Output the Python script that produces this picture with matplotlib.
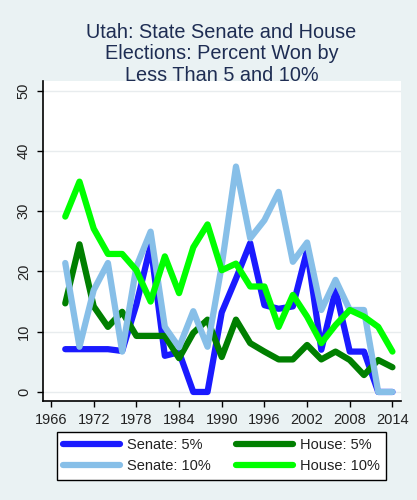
import numpy as np
import matplotlib.pyplot as plt

plt.rcParams['font.family'] = ['Liberation Sans', 'DejaVu Sans']

# election years and percent of races won by less than 5 / 10 points
years = list(range(1968, 2015, 2))

senate_5 = [7.1, 7.1, 7.1, 7.1, 6.8, 14.5, 24.3, 6.0, 6.6, 0, 0, 13.2,
            18.8, 24.7, 14.4, 13.8, 14.2, 23.5, 7.0, 16.9, 6.7, 6.7, 0, 0]
senate_10 = [21.4, 7.5, 16.9, 21.4, 6.7, 20.8, 26.6, 10.8, 7.4, 13.4, 7.5, 21.0,
             37.4, 25.5, 28.5, 33.2, 21.6, 24.8, 13.6, 18.6, 13.6, 13.6, 0, 0]
house_5 = [14.7, 24.5, 14.2, 10.8, 13.3, 9.3, 9.3, 9.3, 5.6, 9.8, 12.0, 5.8,
           12.0, 8.1, 6.7, 5.4, 5.4, 7.8, 5.4, 6.7, 5.3, 2.8, 5.3, 4.1]
house_10 = [29.1, 34.9, 27.1, 22.9, 22.9, 20.2, 15.0, 22.5, 16.4, 24.0, 27.8, 20.2,
            21.3, 17.5, 17.5, 10.8, 16.1, 12.5, 8.1, 11.1, 13.6, 12.5, 10.8, 6.7]

bg = "#eaf2f3"
fig = plt.figure(figsize=(4.17, 5.0), dpi=100, facecolor=bg)
ax = fig.add_axes([0.1024, 0.198, 0.8592, 0.640])
ax.set_facecolor("white")

lw = 4.5
l1, = ax.plot(years, senate_5, color="#1a1aff", lw=lw, solid_capstyle="round", label="Senate: 5%")
l3, = ax.plot(years, house_5, color="#007f00", lw=lw, solid_capstyle="round", label="House: 5%")
l2, = ax.plot(years, senate_10, color="#87bfe8", lw=lw, solid_capstyle="round", label="Senate: 10%")
l4, = ax.plot(years, house_10, color="#00ff00", lw=lw, solid_capstyle="round", label="House: 10%")

ax.set_xlim(1964.83, 2015.2)
ax.set_ylim(-1.5, 51.6)
ax.set_xticks(range(1966, 2015, 6))
ax.set_yticks(range(0, 51, 10))
ax.grid(axis="y", color="#e8ecee", lw=1)
ax.set_axisbelow(True)
for s in ["top", "right"]:
    ax.spines[s].set_visible(False)
for s in ["left", "bottom"]:
    ax.spines[s].set_linewidth(1.2)
ax.tick_params(axis="both", labelsize=10.5, colors="black", labelcolor="#222222",
               length=4.5, width=1, pad=4)
for lab in ax.get_yticklabels():
    lab.set_rotation(90)
    lab.set_va("center")

fig.text(0.531, 0.954, "Utah: State Senate and House\nElections: Percent Won by\nLess Than 5 and 10%",
         ha="center", va="top", fontsize=14.3, color="#1e2d53", linespacing=1.16)

leg = fig.legend([l1, l2, l3, l4], ["Senate: 5%", "Senate: 10%", "House: 5%", "House: 10%"],
                 ncol=2, loc="center", bbox_to_anchor=(0.531, 0.0885), fontsize=10.5,
                 frameon=True, fancybox=False, edgecolor="black", framealpha=1,
                 handlelength=3.9, columnspacing=1.75, handletextpad=0.45,
                 labelspacing=0.45, borderpad=0.45, borderaxespad=0)
leg.get_frame().set_linewidth(1)
for t in leg.get_texts():
    t.set_color("#222222")

plt.savefig("out.png", dpi=100, facecolor=bg)
